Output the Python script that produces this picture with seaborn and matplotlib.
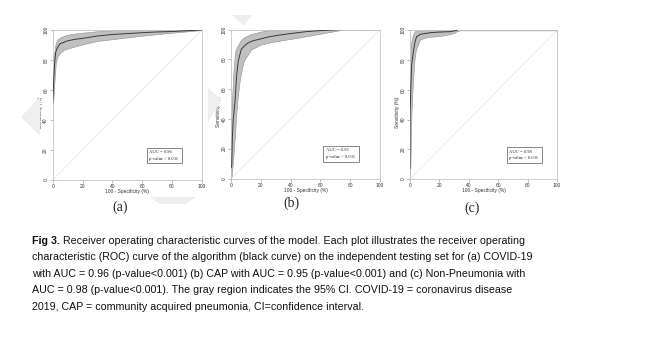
import matplotlib
matplotlib.use("Agg")
import matplotlib.pyplot as plt
import seaborn as sns
import numpy as np
from matplotlib.patches import Rectangle, Polygon

# ---------------- data ----------------
panel_labels = ["(a)", "(b)", "(c)"]
auc_values = ["0.96", "0.95", "0.98"]
p_text = "p-value < 0.001"

fpr_a = [0, 0.5, 1, 1.5, 2, 3, 4, 5, 7, 9, 12, 15, 20, 25, 30, 40, 50, 60, 70, 80, 90, 100]
tpr_a = [51, 62, 73, 80, 85, 88, 89.5, 91, 91.5, 92.5, 93.2, 93.8, 94.4, 95.2, 96, 97, 97.6, 98.2, 98.7, 99, 99.5, 100]
ci_x_a = [0, 0.5, 1, 2, 3, 5, 8, 12, 20, 30, 43, 58, 76, 96, 100]
ci_hi_a = [56, 74, 84, 91, 93.5, 95, 96.3, 97.3, 98.2, 99.2, 100, 100, 100, 100, 100]
ci_lo_a = [50, 54, 63, 77, 82, 85, 87, 88.2, 90.4, 92.7, 94.2, 96, 97.8, 99.6, 100]

fpr_b = [0, 0.5, 0.9, 1.5, 2.7, 3.8, 4.9, 6.9, 9, 11.4, 15, 20.4, 25, 31.5, 38, 45, 50, 56, 62, 69.6, 75]
tpr_b = [7, 9, 27, 40, 51.5, 69.5, 79, 86.7, 89, 91, 92.5, 93.8, 95, 96.1, 97, 97.9, 98.5, 99, 99.4, 99.7, 100]
ci_x_b = [0, 0.5, 1.5, 2.7, 3.8, 4.9, 6, 8.3, 9.2, 13.6, 20.4, 26.9, 31.5, 45, 58, 74, 100]
ci_hi_b = [42, 49, 69.5, 85, 88, 89.6, 92, 94.5, 95, 97, 98.7, 99.7, 100, 100, 100, 100, 100]
ci_lo_b = [0, 2, 13.5, 30, 47, 58, 67, 78, 80, 86.7, 90, 91.5, 92.3, 94.5, 96.8, 99.7, 100]

fpr_c = [0, 0, 0.5, 1.1, 2.3, 3.4, 4.5, 7, 10, 13.8, 20, 27.4, 32]
tpr_c = [7, 41, 58.7, 76.7, 85.6, 92.3, 95.7, 97.3, 97.8, 98.4, 98.8, 99.1, 100]
ci_x_c = [0, 0.5, 1, 2, 3, 4, 6, 7, 12, 20.6, 29.7, 32, 34, 100]
ci_hi_c = [70, 88, 93, 97, 99, 100, 100, 100, 100, 100, 100, 100, 100, 100]
ci_lo_c = [0, 20, 45, 65, 80, 87, 92, 94, 95.5, 96.2, 98, 99.5, 100, 100]

ticks = [0, 20, 40, 60, 80, 100]
xlabel = "100 - Specificity (%)"
ylabel = "Sensitivity (%)"

caption_lines = [
    ("Fig 3.", " Receiver operating characteristic curves of the model. Each plot illustrates the receiver operating"),
    ("", "characteristic (ROC) curve of the algorithm (black curve) on the independent testing set for (a) COVID-19"),
    ("", "with AUC = 0.96 (p-value<0.001) (b) CAP with AUC = 0.95 (p-value<0.001) and (c) Non-Pneumonia with"),
    ("", "AUC = 0.98 (p-value<0.001). The gray region indicates the 95% CI. COVID-19 = coronavirus disease"),
    ("", "2019, CAP = community acquired pneumonia, CI=confidence interval."),
]

# ---------------- figure ----------------
sns.set_style("white")
plt.rcParams["font.family"] = ["Liberation Sans", "DejaVu Sans"]

W, H = 669, 352
fig = plt.figure(figsize=(W / 100, H / 100), dpi=100)

def fx(px):
    return px / W

def fy(py):
    return 1 - py / H

# faint watermark shapes (background)
wm_color = "#eeeeee"
for pts in [
    [(21, 117), (40, 97), (40, 136)],
    [(208, 88), (222, 100), (208, 122)],
    [(150, 197), (196, 197), (186, 204), (160, 204)],
    [(232, 15), (252, 15), (244, 26)],
]:
    fig.patches.append(Polygon([(fx(x), fy(y)) for x, y in pts], closed=True,
                               transform=fig.transFigure, facecolor=wm_color,
                               edgecolor="none", zorder=0))

axes_px = [  # left, top, right, bottom in pixels
    (52.7, 30.0, 201.7, 180.0),
    (231.0, 29.5, 380.0, 178.5),
    (410.0, 30.3, 557.0, 179.0),
]
label_pos = [(120, 207), (291, 203), (472, 208)]
box_data = [(63, 11.1, 86.6, 21.5), (62, 11.3, 86, 21.8), (65.8, 11.0, 89.6, 21.3)]

data = [
    (fpr_a, tpr_a, ci_x_a, ci_lo_a, ci_hi_a),
    (fpr_b, tpr_b, ci_x_b, ci_lo_b, ci_hi_b),
    (fpr_c, tpr_c, ci_x_c, ci_lo_c, ci_hi_c),
]

spine_col = "#c4c4c4"
small = 3.5

for i, (l, t, r, b) in enumerate(axes_px):
    ax = fig.add_axes([fx(l), fy(b), (r - l) / W, (b - t) / H])
    ax.set_facecolor("white")
    fpr, tpr, cx, clo, chi = data[i]
    ax.fill_between(cx, clo, chi, color="#c0c0c0", edgecolor="#8f8f8f",
                    linewidth=0.4, zorder=2)
    sns.lineplot(x=[0, 100], y=[0, 100], ax=ax, color="#e4e4e4", linewidth=0.5, zorder=1)
    sns.lineplot(x=fpr, y=tpr, ax=ax, color="#3a3a3a", linewidth=0.7,
                 estimator=None, sort=False, zorder=3)
    ax.set_xlim(0, 100)
    ax.set_ylim(0, 100)
    ax.set_xticks(ticks)
    ax.set_yticks(ticks)
    ax.set_xticklabels([str(v) for v in ticks], fontsize=small, color="#333333")
    ax.set_yticklabels([str(v) for v in ticks], fontsize=small, color="#333333",
                       rotation=90, va="center")
    ax.tick_params(axis="both", direction="out", length=2, width=0.4,
                   color="#888888", pad=1.2, bottom=True, left=True)
    for s in ax.spines.values():
        s.set_color(spine_col)
        s.set_linewidth(0.6)
    ax.set_xlabel(xlabel, fontsize=small, color="#333333", labelpad=0)
    ax.set_ylabel(ylabel, fontsize=small, color="#333333", labelpad=0)
    ax.xaxis.set_label_coords(0.5, -0.062)
    ax.yaxis.set_label_coords(-0.068, 0.45)

    # AUC box
    x0, y0, x1, y1 = box_data[i]
    ax.add_patch(Rectangle((x0, y0), x1 - x0, y1 - y0, facecolor="white",
                           edgecolor="#555555", linewidth=0.5, zorder=4))
    ax.text(x0 + 1.5, y0 + (y1 - y0) * 0.72, "AUC = " + auc_values[i],
            fontsize=3.3, family=["Liberation Serif", "DejaVu Serif"], va="center", zorder=5)
    ax.text(x0 + 1.5, y0 + (y1 - y0) * 0.28, p_text,
            fontsize=3.3, family=["Liberation Serif", "DejaVu Serif"], va="center", zorder=5)

    lx, ly = label_pos[i]
    fig.text(fx(lx), fy(ly), panel_labels[i], fontsize=10,
             family=["Liberation Serif", "DejaVu Serif"], ha="center", va="center")

# caption
cap_size = 7.7
line_y = [240.5, 257.0, 273.8, 290.3, 306.5]
fig.canvas.draw()
renderer = fig.canvas.get_renderer()
for (bold, rest), y in zip(caption_lines, line_y):
    x = 32
    if bold:
        tb = fig.text(fx(x), fy(y), bold, fontsize=cap_size, fontweight="bold",
                      va="center", ha="left", color="#111111")
        bb = tb.get_window_extent(renderer=renderer)
        x = x + bb.width
    fig.text(fx(x), fy(y), rest, fontsize=cap_size, va="center", ha="left", color="#111111")

fig.savefig("out.png", dpi=100, facecolor="white")
